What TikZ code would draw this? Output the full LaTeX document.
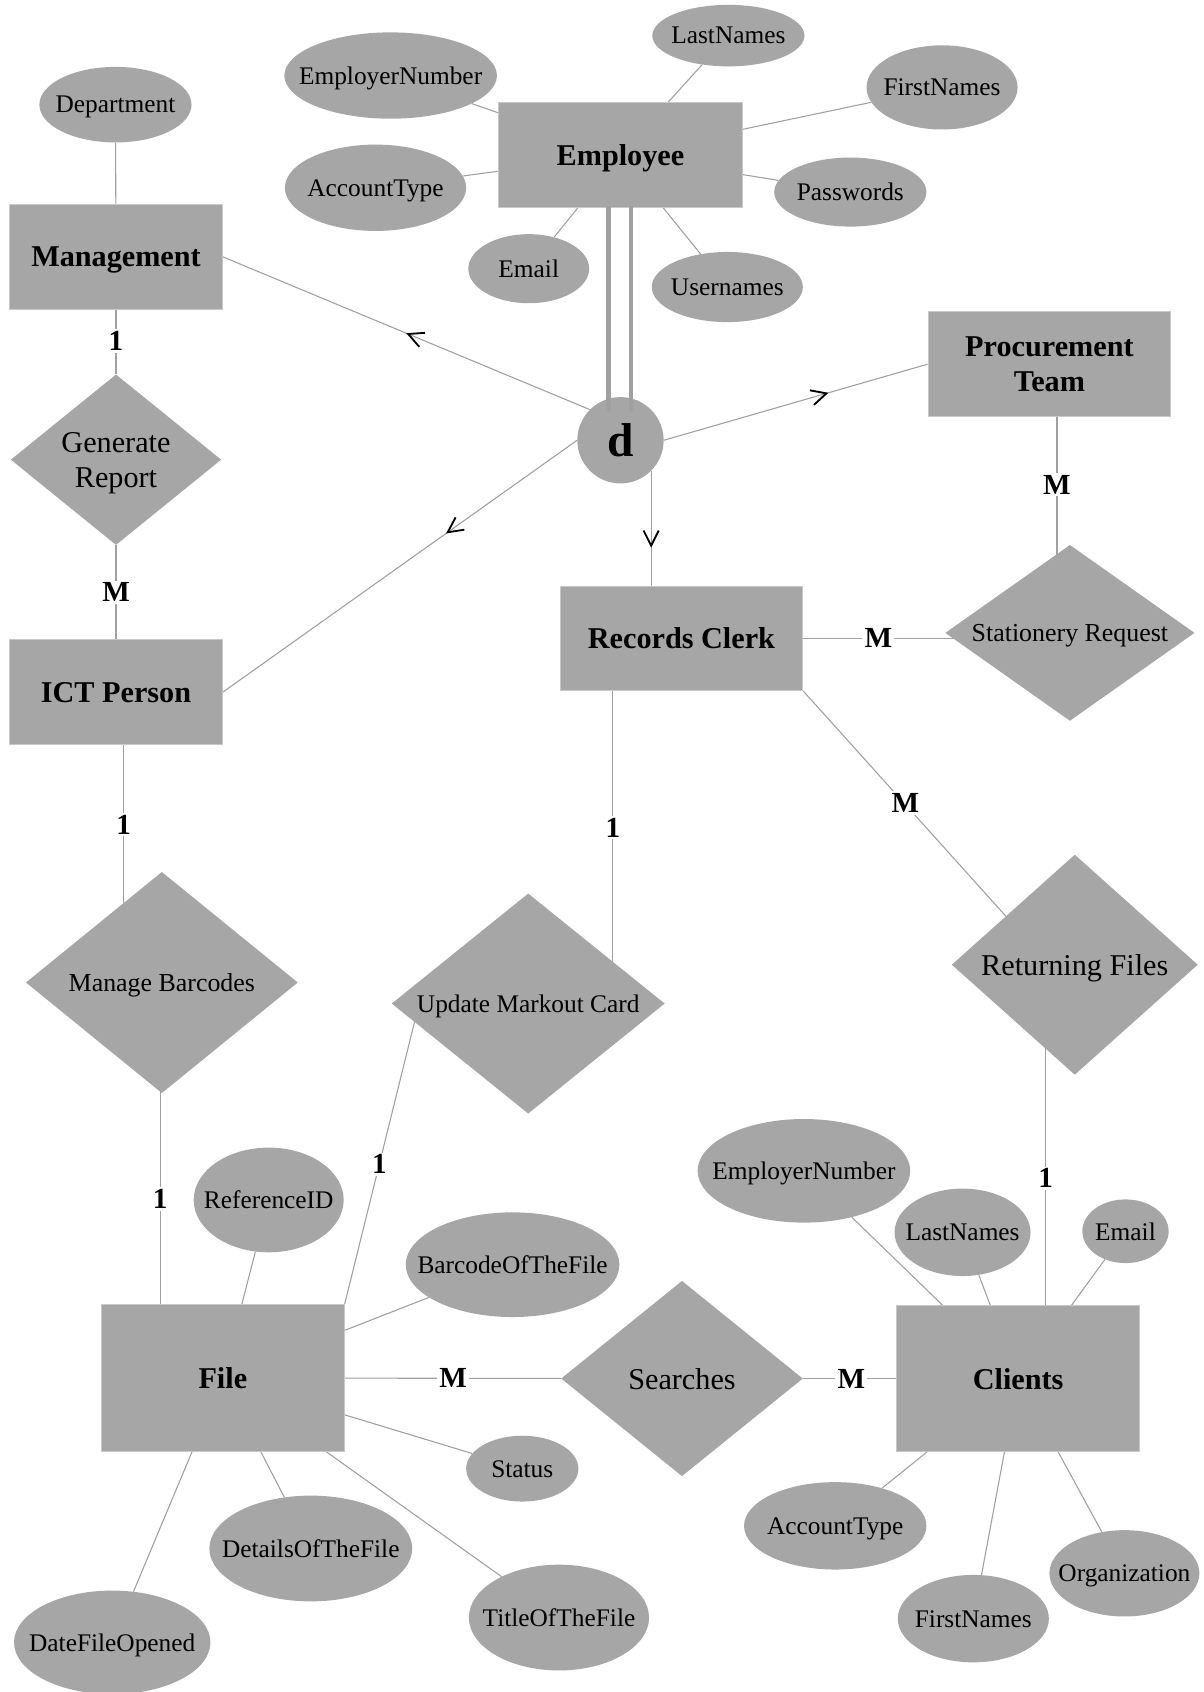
\documentclass[tikz,border=0pt]{standalone}
\usepackage{fontspec}
\setmainfont{Liberation Serif}
\usetikzlibrary{shapes.geometric,calc,backgrounds,decorations.markings,arrows.meta}

\definecolor{boxgray}{RGB}{166,166,166}
\definecolor{edgegray}{RGB}{200,200,200}
\definecolor{linegray}{RGB}{160,160,160}

% text that does not widen the shape around it
\newcommand{\zerow}[1]{\makebox[0pt]{#1}}

\tikzset{
  ent/.style={rectangle, fill=boxgray, draw=edgegray, line width=0.8pt, inner sep=0pt,
              align=center, text depth=0pt, font=\fontsize{28}{32}\selectfont\bfseries},
  attr/.style={ellipse, fill=boxgray, inner sep=0pt, text depth=0pt, font=\fontsize{23.5}{26}\selectfont},
  rel/.style={diamond, fill=boxgray, inner sep=0pt, font=\fontsize{#1}{33}\selectfont},
  rel/.default=28,
  flat/.style={text depth=0pt},
  card/.style={fill=white, inner sep=2pt, font=\fontsize{27}{30}\selectfont\bfseries},
  conn/.style={draw=linegray, line width=1pt},
  isa/.style={conn, postaction={decorate}, decoration={markings,
      mark=at position #1 with {\arrow[black,line width=1.7pt]{Straight Barb[length=14pt,width=14pt]}}}},
}

\begin{document}
\begin{tikzpicture}[x=1pt,y=-1pt]
\useasboundingbox (0,0) rectangle (1115,1568);

% ---------- entities ----------
\node[ent, minimum width=226, minimum height=97] (emp)     at (575,143.5)  {Employee};
\node[ent, minimum width=197, minimum height=98] (mgmt)    at (107.5,238)  {Management};
\node[ent, minimum width=225, minimum height=97] (proc)    at (972.5,337.5){Procurement\\Team};
\node[ent, minimum width=197, minimum height=97] (ict)     at (107.5,641.5){ICT Person};
\node[ent, minimum width=225, minimum height=97] (rc)      at (631.5,591.5){Records Clerk};
\node[ent, minimum width=225, minimum height=136] (file)   at (206.5,1277) {File};
\node[ent, minimum width=225, minimum height=135] (clients) at (943.5,1277.5){Clients};

% ---------- specialisation circle ----------
\node[circle, fill=boxgray, inner sep=0pt, minimum size=80,
      font=\fontsize{44}{44}\selectfont\bfseries] (d) at (575,408) {d};

% ---------- relationships ----------
\node[rel, minimum width=195, minimum height=158] (gr)   at (107.5,426)
  {\zerow{\raisebox{-3pt}[\height][\depth]{\begin{tabular}{@{}c@{}}Generate\\Report\end{tabular}}}};
\node[rel=24, flat, minimum width=231, minimum height=163] (sr) at (991.5,586.5) {\zerow{Stationery Request}};
\node[rel=24, flat, minimum width=252, minimum height=205] (mb) at (150,910.5)   {\zerow{Manage Barcodes}};
\node[rel=23.5, flat, minimum width=253, minimum height=204] (umc) at (489.5,930) {\zerow{Update Markout Card}};
\node[rel, flat, minimum width=228, minimum height=204] (rf)   at (996,894)      {\zerow{Returning Files}};
\node[rel, flat, minimum width=224, minimum height=181] (srch) at (632,1277.5)   {\zerow{Searches}};

% ---------- attributes ----------
\node[attr, minimum width=141, minimum height=70] (dept) at (107,97)   {\zerow{Department}};
\node[attr, minimum width=197, minimum height=80] (enA)  at (362,70)   {\zerow{EmployerNumber}};
\node[attr, minimum width=141, minimum height=57] (lnA)  at (675,33)   {\zerow{LastNames}};
\node[attr, minimum width=140, minimum height=78] (fnA)  at (873,81)   {\zerow{FirstNames}};
\node[attr, minimum width=168, minimum height=80] (atA)  at (348,174)  {\zerow{AccountType}};
\node[attr, minimum width=141, minimum height=64] (pw)   at (788,178)  {\zerow{Passwords}};
\node[attr, minimum width=112, minimum height=64] (emA)  at (490,249)  {\zerow{Email}};
\node[attr, minimum width=140, minimum height=65] (un)   at (674,266)  {\zerow{Usernames}};

\node[attr, minimum width=139, minimum height=97] (refid) at (249,1112) {\zerow{ReferenceID}};
\node[attr, minimum width=198, minimum height=97] (bc)    at (475,1172) {\zerow{BarcodeOfTheFile}};
\node[attr, minimum width=104, minimum height=61] (st)    at (484,1361) {\zerow{Status}};
\node[attr, minimum width=188, minimum height=98] (det)   at (288,1435) {\zerow{DetailsOfTheFile}};
\node[attr, minimum width=167, minimum height=98] (tt)    at (518,1499) {\zerow{TitleOfTheFile}};
\node[attr, minimum width=182, minimum height=96] (dfo)   at (104,1522) {\zerow{DateFileOpened}};

\node[attr, minimum width=197, minimum height=96] (enB)  at (745,1085)  {\zerow{EmployerNumber}};
\node[attr, minimum width=126, minimum height=81] (lnB)  at (892,1142)  {\zerow{LastNames}};
\node[attr, minimum width=80,  minimum height=59] (emB)  at (1043,1141) {\zerow{Email}};
\node[attr, minimum width=169, minimum height=81] (atB)  at (774,1414)  {\zerow{AccountType}};
\node[attr, minimum width=140, minimum height=81] (fnB)  at (902,1500)  {\zerow{FirstNames}};
\node[attr, minimum width=139, minimum height=80] (org)  at (1042,1458) {\zerow{Organization}};

% ---------- end points of the offset relationship lines ----------
\coordinate (ictx)  at ($(ict.center)+(7,0)$);
\coordinate (mbx)   at ($(mb.center)+(-1.5,0)$);
\coordinate (rcx)   at ($(rc.center)+(-63.5,0)$);
\coordinate (procx) at ($(proc.center)+(7,0)$);
\coordinate (rfx)   at ($(rf.center)+(-27,0)$);
\coordinate (umcin) at ($(umc.west)+(31,-22)$);
\coordinate (rfin)  at ($(rf.center)+(-36,-14)$);

% ---------- connectors (behind the shapes) ----------
\begin{scope}[on background layer]
  \fill[white] (0,0) rectangle (1115,1568);

  % attributes
  \draw[conn] (dept) -- (mgmt);
  \foreach \a in {enA,lnA,fnA,atA,pw,emA,un} \draw[conn] (\a) -- (emp);
  \foreach \a in {refid,bc,st,det,tt,dfo} \draw[conn] (\a) -- (file);
  \foreach \a in {enB,lnB,emB,atB,fnB,org} \draw[conn] (\a) -- (clients);

  % relationships
  \draw[conn] (mgmt) -- (gr);
  \draw[conn] (gr) -- (ict);
  \draw[conn] (ictx) -- (ictx |- mb.center);
  \draw[conn] (mbx) -- (mbx |- file.center);
  \draw[conn] (rcx) -- (rcx |- umc.center);
  \draw[conn] (file.north east) -- (umcin);
  \draw[conn] (rc.center) -- (rc.center -| sr.center);
  \draw[conn] (procx) -- (procx |- sr.center);
  \draw[conn] (rc.south east) -- (rfin);
  \draw[conn] (rfx) -- (rfx |- clients.center);
  \draw[conn] (file) -- (srch);
  \draw[conn] (srch) -- (clients);

  % specialisation
  \draw[isa=0.5]   (d.north west) -- (mgmt.east);
  \draw[isa=0.37]  (d.west) -- (ict.east);
  \draw[isa=0.624] (d.east) -- (proc.west);
  \draw[isa=0.67]  (d.south east) -- (d.south east |- rc.north);
\end{scope}

% total participation of Employee
\draw[linegray, line width=4pt, line cap=round]
  ($(emp.south)+(-11,0)$) -- ($(d.center)+(-11,-28)$);
\draw[linegray, line width=4pt, line cap=round]
  ($(emp.south)+(10,0)$) -- ($(d.center)+(10,-28)$);

% ---------- cardinalities ----------
\node[card] (k1)  at (107.5,316)  {1};
\node[card] (k2)  at (107.5,549)  {M};
\node[card] (k3)  at (114.5,764)  {1};
\node[card] (k4)  at (148.5,1111) {1};
\node[card] (k5)  at (568,767)    {1};
\node[card] (k6)  at (351.5,1079) {1};
\node[card] (k7)  at (814,591.5)  {M};
\node[card] (k8)  at (979.5,449)  {M};
\node[card] (k9)  at (839,744)    {M};
\node[card] (k10) at (969,1092)   {1};
\node[card] (k11) at (420,1277)   {M};
\node[card] (k12) at (789,1277.5) {M};
\end{tikzpicture}
\end{document}
